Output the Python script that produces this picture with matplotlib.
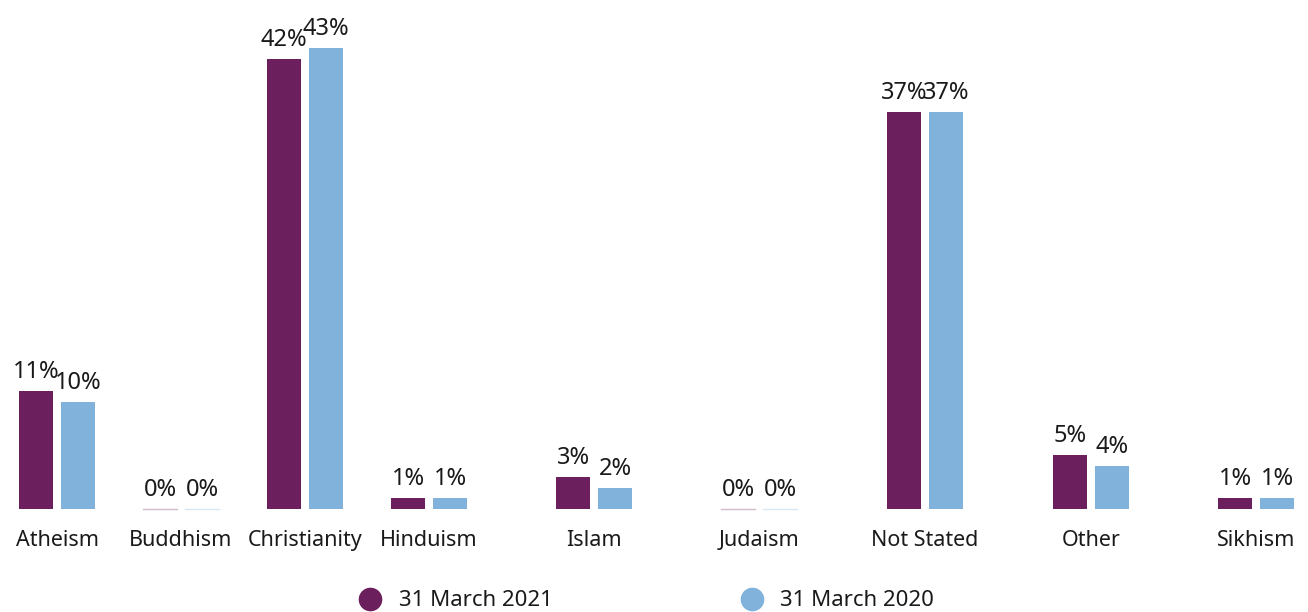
import matplotlib
matplotlib.use("Agg")
import matplotlib.pyplot as plt
from matplotlib.lines import Line2D

categories = ["Atheism", "Buddhism", "Christianity", "Hinduism", "Islam",
              "Judaism", "Not Stated", "Other", "Sikhism"]
values_2021 = [11, 0, 42, 1, 3, 0, 37, 5, 1]
values_2020 = [10, 0, 43, 1, 2, 0, 37, 4, 1]
series_names = ["31 March 2021", "31 March 2020"]

# group centres along the x axis (figure pixel units)
centers = [57, 181, 305, 429, 594, 759, 925, 1091, 1256]
bar_w = 34
offset = 21

purple = "#6B1F5C"
blue = "#80B2DC"
text_color = "#1a1a1a"
font = "Noto Sans"

W, H, DPI = 1308, 612, 100
fig = plt.figure(figsize=(W / DPI, H / DPI), dpi=DPI)
ax = fig.add_axes([0, 0, 1, 1])
px_per_unit = 10.72
baseline_px = 509
ax.set_xlim(0, W)
ax.set_ylim((baseline_px - H) / px_per_unit, baseline_px / px_per_unit)
ax.axis("off")

for vals, col, sign in ((values_2021, purple, -1), (values_2020, blue, 1)):
    xs = [c + sign * offset for c in centers]
    ax.bar(xs, vals, width=bar_w, color=col, edgecolor="none")
    for x, v in zip(xs, vals):
        if v == 0:
            ax.plot([x - bar_w / 2, x + bar_w / 2], [0, 0], color=col,
                    alpha=0.3, lw=1)
        ax.text(x, v + 13 / px_per_unit, f"{v}%", ha="center",
                va="baseline", fontsize=17, family=font, color=text_color)

label_y = (baseline_px - 546) / px_per_unit
for c, name in zip(centers, categories):
    ax.text(c, label_y, name, ha="center", va="baseline", fontsize=15.5,
            family=font, color=text_color)

handles = [Line2D([], [], marker="o", ls="none", markersize=16,
                  markerfacecolor=col, markeredgecolor=col)
           for col in (purple, blue)]
fig.legend(handles, series_names, loc="center", ncol=2, frameon=False,
           bbox_to_anchor=(641 / W, 11 / H), columnspacing=7.95,
           handletextpad=0.3, prop={"family": font, "size": 16},
           labelcolor=text_color)

fig.savefig("out.png", dpi=DPI)
